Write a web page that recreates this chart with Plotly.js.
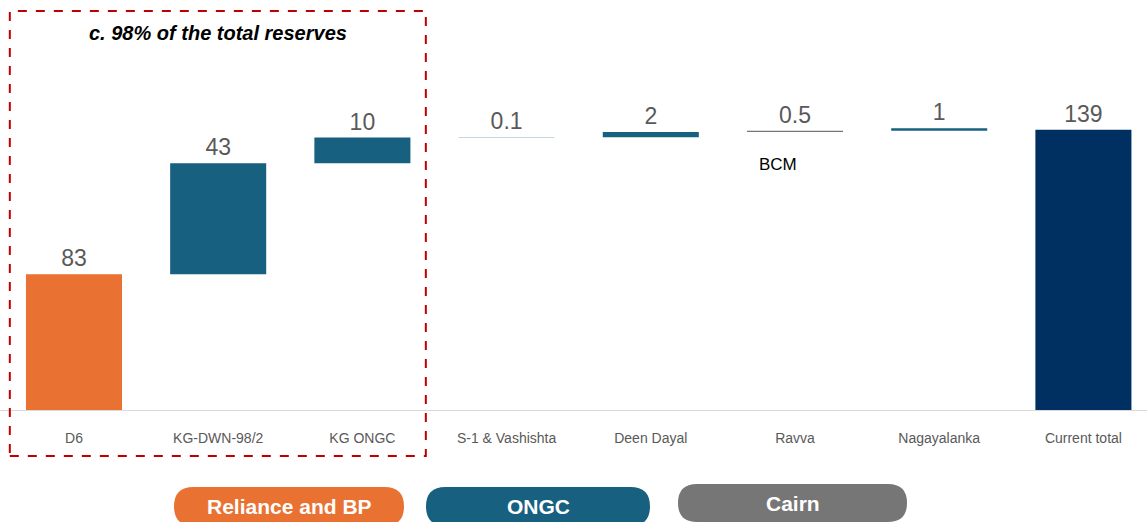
<!DOCTYPE html>
<html>
<head>
<meta charset="utf-8">
<script src="https://cdn.plot.ly/plotly-3.0.1.min.js"></script>
<style>
  html, body { margin: 0; padding: 0; background: #ffffff; }
  #chart { width: 1147px; height: 522px; }
</style>
</head>
<body>
<div id="chart"></div>
<script>
// ---- Data ----
const categories = ["D6", "KG-DWN-98/2", "KG ONGC", "S-1 & Vashishta", "Deen Dayal", "Ravva", "Nagayalanka", "Current total"];
const reserves   = [83, 43, 10, 0.1, 2, 0.5, 1, 139];   // BCM
const valueLabels = ["83", "43", "10", "0.1", "2", "0.5", "1", "139"];
const operators  = ["Reliance and BP", "ONGC", "ONGC", "ONGC", "ONGC", "Cairn", "ONGC", "Total"];
const legendItems = ["Reliance and BP", "ONGC", "Cairn"];

// ---- Styling ----
const colorOf = {
  "Reliance and BP": "#E97132",
  "ONGC": "#17607F",
  "Cairn": "#767676",
  "Total": "#003062"
};
// The reference compresses the long bars (first and total) with a hidden scale break.
const AXIS_BREAK = 30;

// Build waterfall geometry from the values
const bases = [], heights = [];
let cum = 0;
reserves.forEach((v, i) => {
  if (i === reserves.length - 1) {           // total bar
    bases.push(0); heights.push(v - AXIS_BREAK);
  } else if (i === 0) {
    bases.push(0); heights.push(v - AXIS_BREAK); cum = v - AXIS_BREAK;
  } else {
    bases.push(cum); heights.push(v); cum += v;
  }
});
const xIdx = categories.map((c, i) => i);

const trace = {
  type: "bar",
  x: xIdx,
  y: heights,
  base: bases,
  width: 0.666,
  marker: { color: operators.map(o => colorOf[o]), line: { width: 0 } },
  text: valueLabels,
  textposition: "outside",
  cliponaxis: false,
  textfont: { family: "Liberation Sans, Arial, sans-serif", size: 23, color: "#595959" },
  hoverinfo: "skip"
};

// pixel helpers (plot area = full width, top 411px)
const W = 1147, H = 411;
const px = x => x / W;
const py = y => (H - y) / H;

function pill(x0, y0, x1, y1, color) {
  const r = (y1 - y0) / 2;
  const X = v => px(v).toFixed(5), Y = v => py(v).toFixed(5);
  const path = `M ${X(x0 + r)} ${Y(y0)} L ${X(x1 - r)} ${Y(y0)} ` +
    `Q ${X(x1)} ${Y(y0)} ${X(x1)} ${Y(y0 + r)} Q ${X(x1)} ${Y(y1)} ${X(x1 - r)} ${Y(y1)} ` +
    `L ${X(x0 + r)} ${Y(y1)} Q ${X(x0)} ${Y(y1)} ${X(x0)} ${Y(y0 + r)} Q ${X(x0)} ${Y(y0)} ${X(x0 + r)} ${Y(y0)} Z`;
  return { type: "path", xref: "paper", yref: "paper", path: path, fillcolor: color, line: { width: 0 }, layer: "above" };
}

const pillBoxes = [
  [174, 487, 404, 526],
  [426, 487, 650, 526],
  [678, 484, 907, 522]
];
const pillTextY = [506, 506, 503];

const shapes = [
  { type: "line", xref: "paper", yref: "y", x0: 0, x1: 1, y0: 0, y1: 0,
    line: { color: "#D9D9D9", width: 2 }, layer: "above" },
  { type: "rect", xref: "x", yref: "paper", x0: -0.445, x1: 2.44, y0: py(456), y1: py(11),
    line: { color: "#C00000", width: 2, dash: "dash" }, fillcolor: "rgba(0,0,0,0)" }
];
const annotations = [
  { xref: "x", yref: "paper", x: 1, y: py(33), xanchor: "center", yanchor: "middle",
    text: "<b><i>c. 98% of the total reserves</i></b>",
    showarrow: false, font: { family: "Liberation Sans, Arial, sans-serif", size: 20, color: "#000000" } },
  { xref: "x", yref: "paper", x: 5 - 0.12, y: py(165), xanchor: "center", yanchor: "middle", text: "BCM",
    showarrow: false, font: { family: "Liberation Sans, Arial, sans-serif", size: 17, color: "#000000" } }
];
legendItems.forEach((name, i) => {
  const b = pillBoxes[i];
  shapes.push(pill(b[0], b[1], b[2], b[3], colorOf[name]));
  annotations.push({ xref: "paper", yref: "paper", x: px((b[0] + b[2]) / 2), y: py(pillTextY[i]),
    xanchor: "center", yanchor: "middle",
    text: "<b>" + name + "</b>", showarrow: false,
    font: { family: "Liberation Sans, Arial, sans-serif", size: 21, color: "#ffffff" } });
});

const layout = {
  width: 1147, height: 522,
  margin: { l: 0, r: 0, t: 0, b: 111, pad: 0 },
  paper_bgcolor: "#ffffff", plot_bgcolor: "#ffffff",
  showlegend: false,
  xaxis: {
    range: [-0.513, 7.441],
    tickmode: "array", tickvals: xIdx, ticktext: categories,
    ticks: "", showgrid: false, zeroline: false, showline: false,
    ticklabelstandoff: 17,
    tickfont: { family: "Liberation Sans, Arial, sans-serif", size: 14, color: "#595959" }
  },
  yaxis: {
    range: [0, 159.3], visible: false, showgrid: false, zeroline: false, fixedrange: true
  },
  shapes: shapes,
  annotations: annotations
};

Plotly.newPlot("chart", [trace], layout, { displayModeBar: false, staticPlot: true });
</script>
</body>
</html>
